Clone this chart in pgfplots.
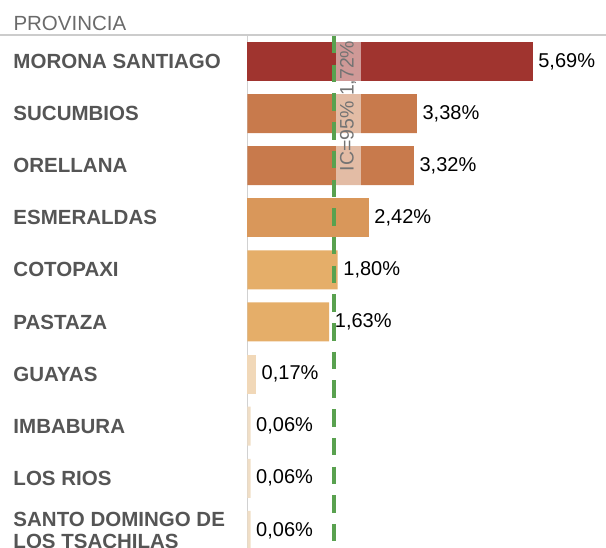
\documentclass[border=0pt]{standalone}
\usepackage{pgfplots}
\pgfplotsset{compat=1.18}
\usepackage{fontspec}
\setmainfont{Liberation Sans}
\definecolor{cMor}{HTML}{A0342F}
\definecolor{cSuc}{HTML}{C87A4C}
\definecolor{cEsm}{HTML}{D9975A}
\definecolor{cCot}{HTML}{E5AE69}
\definecolor{cGua}{HTML}{F1D8B8}
\definecolor{cImb}{HTML}{F0DEC6}
\definecolor{cGreen}{HTML}{59A14F}
\definecolor{cLab}{HTML}{555555}
\definecolor{cHead}{HTML}{6A6A6A}
\begin{document}
\begin{tikzpicture}[x=1pt,y=1pt]
\useasboundingbox (0,0) rectangle (606,548);
\node[anchor=west, inner sep=0pt, text=cHead, font=\fontsize{20.5}{22}\selectfont] at (13.3,525) {PROVINCIA};
\draw[black!20, line width=1.2pt] (0,513) -- (606,513);
\begin{axis}[
  at={(247.5pt,0pt)}, anchor=south west,
  width=358.5pt, height=512pt, scale only axis,
  xmin=0, xmax=7.153,
  ymin=-0.489, ymax=9.338, y dir=reverse,
  axis x line=none,
  axis y line*=left,
  y axis line style={draw=black!18, line width=1pt, -},
  ytick={0,1,2,3,4,5,6,7,8,9},
  yticklabels={MORONA SANTIAGO,SUCUMBIOS,ORELLANA,ESMERALDAS,COTOPAXI,PASTAZA,GUAYAS,IMBABURA,LOS RIOS,{SANTO DOMINGO DE\\LOS TSACHILAS}},
  yticklabel style={font=\bfseries\fontsize{20.5}{22}\selectfont, text=cLab, anchor=west, align=left, inner sep=0pt, xshift=-234.2pt},
  ytick style={draw=none},
  clip=false,
  mybar/.style={xbar, bar width=39pt, bar shift=0pt, draw=none, fill=#1,
    nodes near coords, point meta=explicit symbolic,
    nodes near coords style={anchor=west, inner sep=0pt, xshift=5.5pt, text=black, font=\fontsize{20}{22}\selectfont}},
]
\addplot[mybar=cMor] coordinates {(5.69,0) [5,69\%]};
\addplot[mybar=cSuc] coordinates {(3.38,1) [3,38\%] (3.32,2) [3,32\%]};
\addplot[mybar=cEsm] coordinates {(2.42,3) [2,42\%]};
\addplot[mybar=cCot] coordinates {(1.80,4) [1,80\%] (1.63,5) [1,63\%]};
\addplot[mybar=cGua] coordinates {(0.17,6) [0,17\%]};
\addplot[mybar=cImb] coordinates {(0.06,7) [0,06\%] (0.06,8) [0,06\%] (0.06,9) [0,06\%]};
\fill[white, opacity=0.5] (axis cs:1.758,-0.489) rectangle (axis cs:2.269,2.47);
\addplot[cGreen, line width=4pt, dash pattern=on 17.5pt off 11.2pt] coordinates {(1.72,-0.489) (1.72,9.338)};
\node[rotate=90, inner sep=0pt, text=black!55, font=\fontsize{19.5}{21}\selectfont] at (axis cs:2.005,0.854) {IC=95\% 1,72\%};
\end{axis}
\end{tikzpicture}
\end{document}
